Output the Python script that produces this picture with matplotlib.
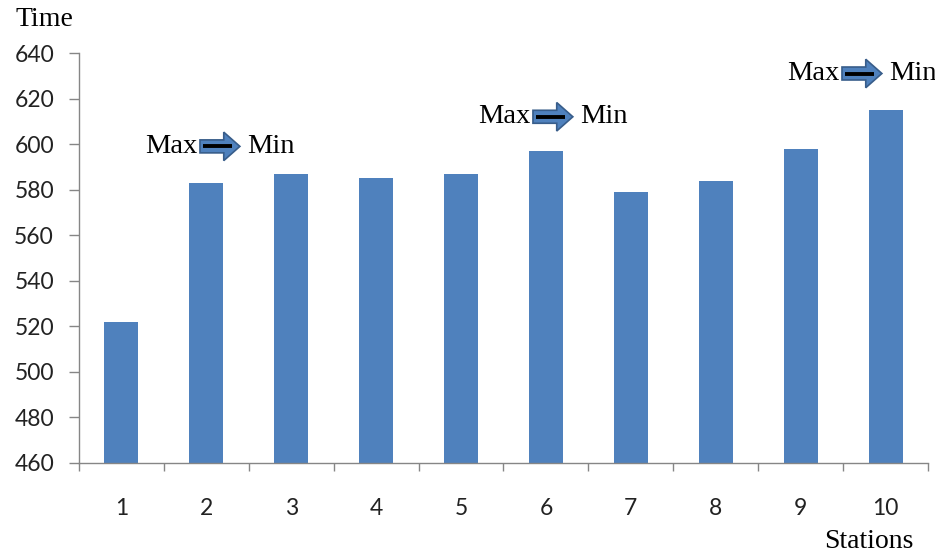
import matplotlib.pyplot as plt
from matplotlib.patches import FancyArrow

# data
stations = [1, 2, 3, 4, 5, 6, 7, 8, 9, 10]
times = [522, 583, 587, 585, 587, 597, 579, 584, 598, 615]
y_ticks = [460, 480, 500, 520, 540, 560, 580, 600, 620, 640]

# "Max -> Min" callouts (arrow start in station units, height in time units)
arrow_x = [1.925, 5.847, 9.487]
arrow_y = [599, 612, 631]

bar_color = '#4F81BD'
spine_color = '#868686'
serif = 'Liberation Serif'
sans = 'Lato'

fig = plt.figure(figsize=(9.35, 5.55), dpi=100)
ax = fig.add_axes([0.0845, 0.1658, 0.9080, 0.7387])

ax.bar(stations, times, width=0.4, color=bar_color, zorder=2)
ax.set_ylim(460, 640)
ax.set_xlim(0.5, 10.5)
ax.set_yticks(y_ticks)
ax.set_xticks(stations)
ax.set_xticks([s + 0.5 for s in [0] + stations], minor=True)

for side in ['top', 'right']:
    ax.spines[side].set_visible(False)
for side in ['left', 'bottom']:
    ax.spines[side].set_color(spine_color)
    ax.spines[side].set_linewidth(1.0)

ax.tick_params(axis='y', which='major', length=7, width=1, color=spine_color,
               pad=11, labelsize=16.5)
ax.tick_params(axis='x', which='major', length=0, pad=25, labelsize=16.5)
ax.tick_params(axis='x', which='minor', length=6, width=1, color=spine_color)
for lbl in ax.get_xticklabels() + ax.get_yticklabels():
    lbl.set_fontfamily(sans)
    lbl.set_color('#222222')

# arrows
arrow_len = 0.47
for x0, y0 in zip(arrow_x, arrow_y):
    arr = FancyArrow(x0, y0, arrow_len, 0, width=5.7, head_width=12.5,
                     head_length=0.19, length_includes_head=True,
                     fc=bar_color, ec='#385D8A', lw=1.2, clip_on=False, zorder=4)
    ax.add_patch(arr)
    ax.plot([x0 + 0.03, x0 + 0.38], [y0, y0], color='black', lw=2.8,
            clip_on=False, zorder=5, solid_capstyle='butt')
    ax.text(x0 - 0.035, y0, 'Max', ha='right', va='center', fontsize=20.5,
            family=serif, clip_on=False)
    ax.text(x0 + arrow_len + 0.08, y0, 'Min', ha='left', va='center', fontsize=20.5,
            family=serif, clip_on=False)

fig.text(44 / 935, 1 - 20 / 555, 'Time', ha='center', va='center',
         fontsize=20, family=serif)
fig.text(869 / 935, 1 - 541 / 555, 'Stations', ha='center', va='center',
         fontsize=20, family=serif)

fig.savefig('out.png', dpi=100)
